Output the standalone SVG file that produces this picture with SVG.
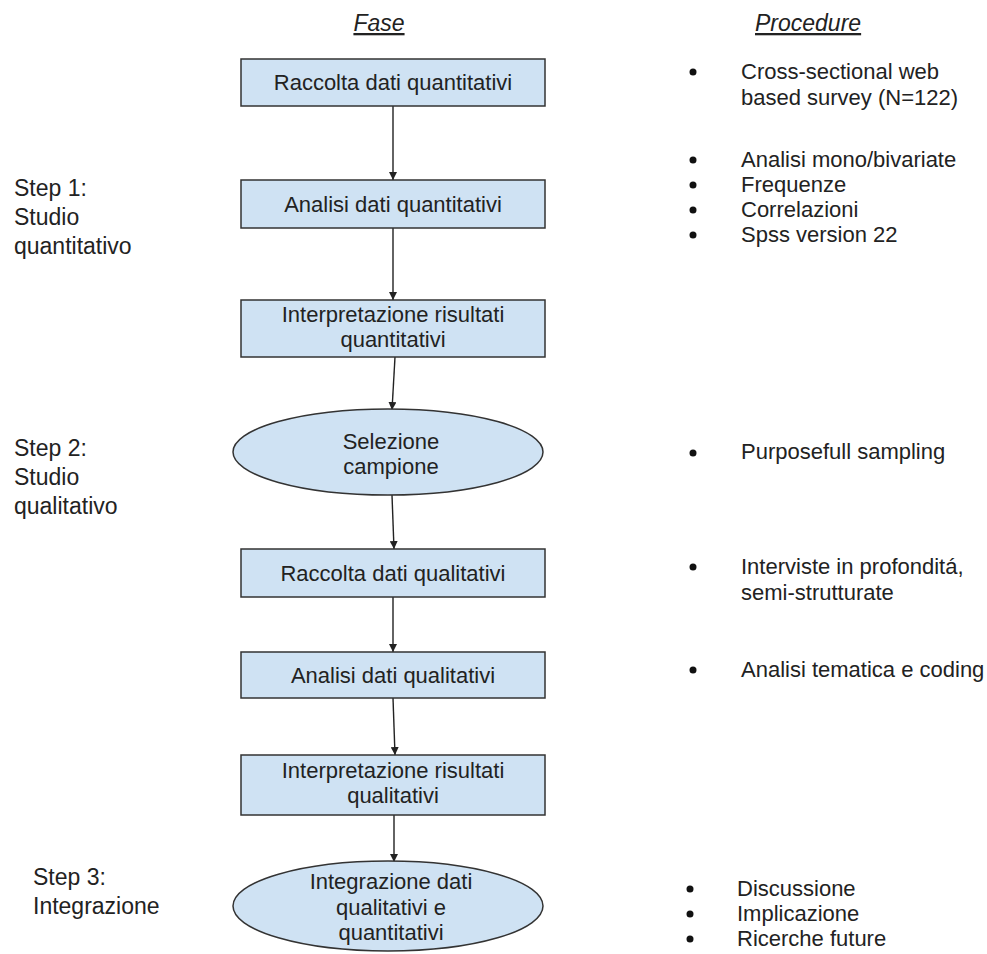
<svg xmlns="http://www.w3.org/2000/svg" width="987" height="954" viewBox="0 0 987 954">
<style>
  text { font-family: "Liberation Sans", Arial, sans-serif; fill: #222; }
  .t { font-size: 22px; }
  .c { text-anchor: middle; }
  .lbl { font-size: 23px; }
  .hdr { font-size: 23px; font-style: italic; text-decoration: underline; }
  .box { fill: #cfe2f3; stroke: #333; stroke-width: 1.5; }
  .edge { stroke: #222; stroke-width: 1.4; fill: none; marker-end: url(#ah); }
  .dot { fill: #111; }
</style>
<defs>
  <marker id="ah" viewBox="0 0 10 10" refX="10" refY="5" markerWidth="8" markerHeight="8" markerUnits="userSpaceOnUse" orient="auto">
    <path d="M0,0 L10,5 L0,10 z" fill="#222"/>
  </marker>
</defs>
<rect width="987" height="954" fill="#ffffff"/>

<text class="hdr c" x="379" y="31">Fase</text>
<text class="hdr" x="755" y="31">Procedure</text>

<g id="step1">
  <text class="lbl" x="14" y="196">Step 1:</text>
  <text class="lbl" x="14" y="225">Studio</text>
  <text class="lbl" x="14" y="254">quantitativo</text>
</g>
<g id="step2">
  <text class="lbl" x="14" y="456">Step 2:</text>
  <text class="lbl" x="14" y="485">Studio</text>
  <text class="lbl" x="14" y="514">qualitativo</text>
</g>
<g id="step3">
  <text class="lbl" x="33" y="885">Step 3:</text>
  <text class="lbl" x="33" y="914">Integrazione</text>
</g>

<g id="connectors">
  <line class="edge" x1="393" y1="106" x2="393" y2="180"/>
  <line class="edge" x1="393" y1="228" x2="393" y2="300"/>
  <line class="edge" x1="395" y1="357" x2="392" y2="410"/>
  <line class="edge" x1="392" y1="495" x2="394" y2="549"/>
  <line class="edge" x1="393" y1="597" x2="393" y2="652"/>
  <line class="edge" x1="393" y1="698" x2="395" y2="755"/>
  <line class="edge" x1="394" y1="815" x2="394" y2="862"/>
</g>

<g id="n1">
  <rect class="box" x="241" y="59" width="304" height="47"/>
  <text class="t c" x="393" y="90">Raccolta dati quantitativi</text>
</g>
<g id="n2">
  <rect class="box" x="241" y="180" width="304" height="48"/>
  <text class="t c" x="393" y="212">Analisi dati quantitativi</text>
</g>
<g id="n3">
  <rect class="box" x="241" y="300" width="304" height="57"/>
  <text class="t c" x="393" y="322">Interpretazione risultati</text>
  <text class="t c" x="393" y="347">quantitativi</text>
</g>
<g id="n4">
  <ellipse class="box" cx="388" cy="452" rx="155" ry="43"/>
  <text class="t c" x="391" y="449">Selezione</text>
  <text class="t c" x="391" y="474">campione</text>
</g>
<g id="n5">
  <rect class="box" x="241" y="549" width="304" height="48"/>
  <text class="t c" x="393" y="581">Raccolta dati qualitativi</text>
</g>
<g id="n6">
  <rect class="box" x="241" y="652" width="304" height="46"/>
  <text class="t c" x="393" y="683">Analisi dati qualitativi</text>
</g>
<g id="n7">
  <rect class="box" x="241" y="755" width="304" height="60"/>
  <text class="t c" x="393" y="778">Interpretazione risultati</text>
  <text class="t c" x="393" y="803">qualitativi</text>
</g>
<g id="n8">
  <ellipse class="box" cx="388" cy="906" rx="155" ry="45"/>
  <text class="t c" x="391" y="889">Integrazione dati</text>
  <text class="t c" x="391" y="915">qualitativi e</text>
  <text class="t c" x="391" y="940">quantitativi</text>
</g>

<g id="proc1">
  <circle class="dot" cx="693" cy="72" r="3.5"/>
  <text class="t" x="741" y="79">Cross-sectional web</text>
  <text class="t" x="741" y="105">based survey (N=122)</text>
</g>
<g id="proc2">
  <circle class="dot" cx="693" cy="160" r="3.5"/>
  <text class="t" x="741" y="167">Analisi mono/bivariate</text>
  <circle class="dot" cx="693" cy="185" r="3.5"/>
  <text class="t" x="741" y="192">Frequenze</text>
  <circle class="dot" cx="693" cy="210" r="3.5"/>
  <text class="t" x="741" y="217">Correlazioni</text>
  <circle class="dot" cx="693" cy="235" r="3.5"/>
  <text class="t" x="741" y="242">Spss version 22</text>
</g>
<g id="proc3">
  <circle class="dot" cx="693" cy="453" r="3.5"/>
  <text class="t" x="741" y="459">Purposefull sampling</text>
</g>
<g id="proc4">
  <circle class="dot" cx="693" cy="567" r="3.5"/>
  <text class="t" x="741" y="574">Interviste in profonditá,</text>
  <text class="t" x="741" y="600">semi-strutturate</text>
</g>
<g id="proc5">
  <circle class="dot" cx="693" cy="670" r="3.5"/>
  <text class="t" x="741" y="677">Analisi tematica e coding</text>
</g>
<g id="proc6">
  <circle class="dot" cx="690" cy="889" r="3.5"/>
  <text class="t" x="737" y="896">Discussione</text>
  <circle class="dot" cx="690" cy="914" r="3.5"/>
  <text class="t" x="737" y="921">Implicazione</text>
  <circle class="dot" cx="690" cy="939" r="3.5"/>
  <text class="t" x="737" y="946">Ricerche future</text>
</g>
</svg>
